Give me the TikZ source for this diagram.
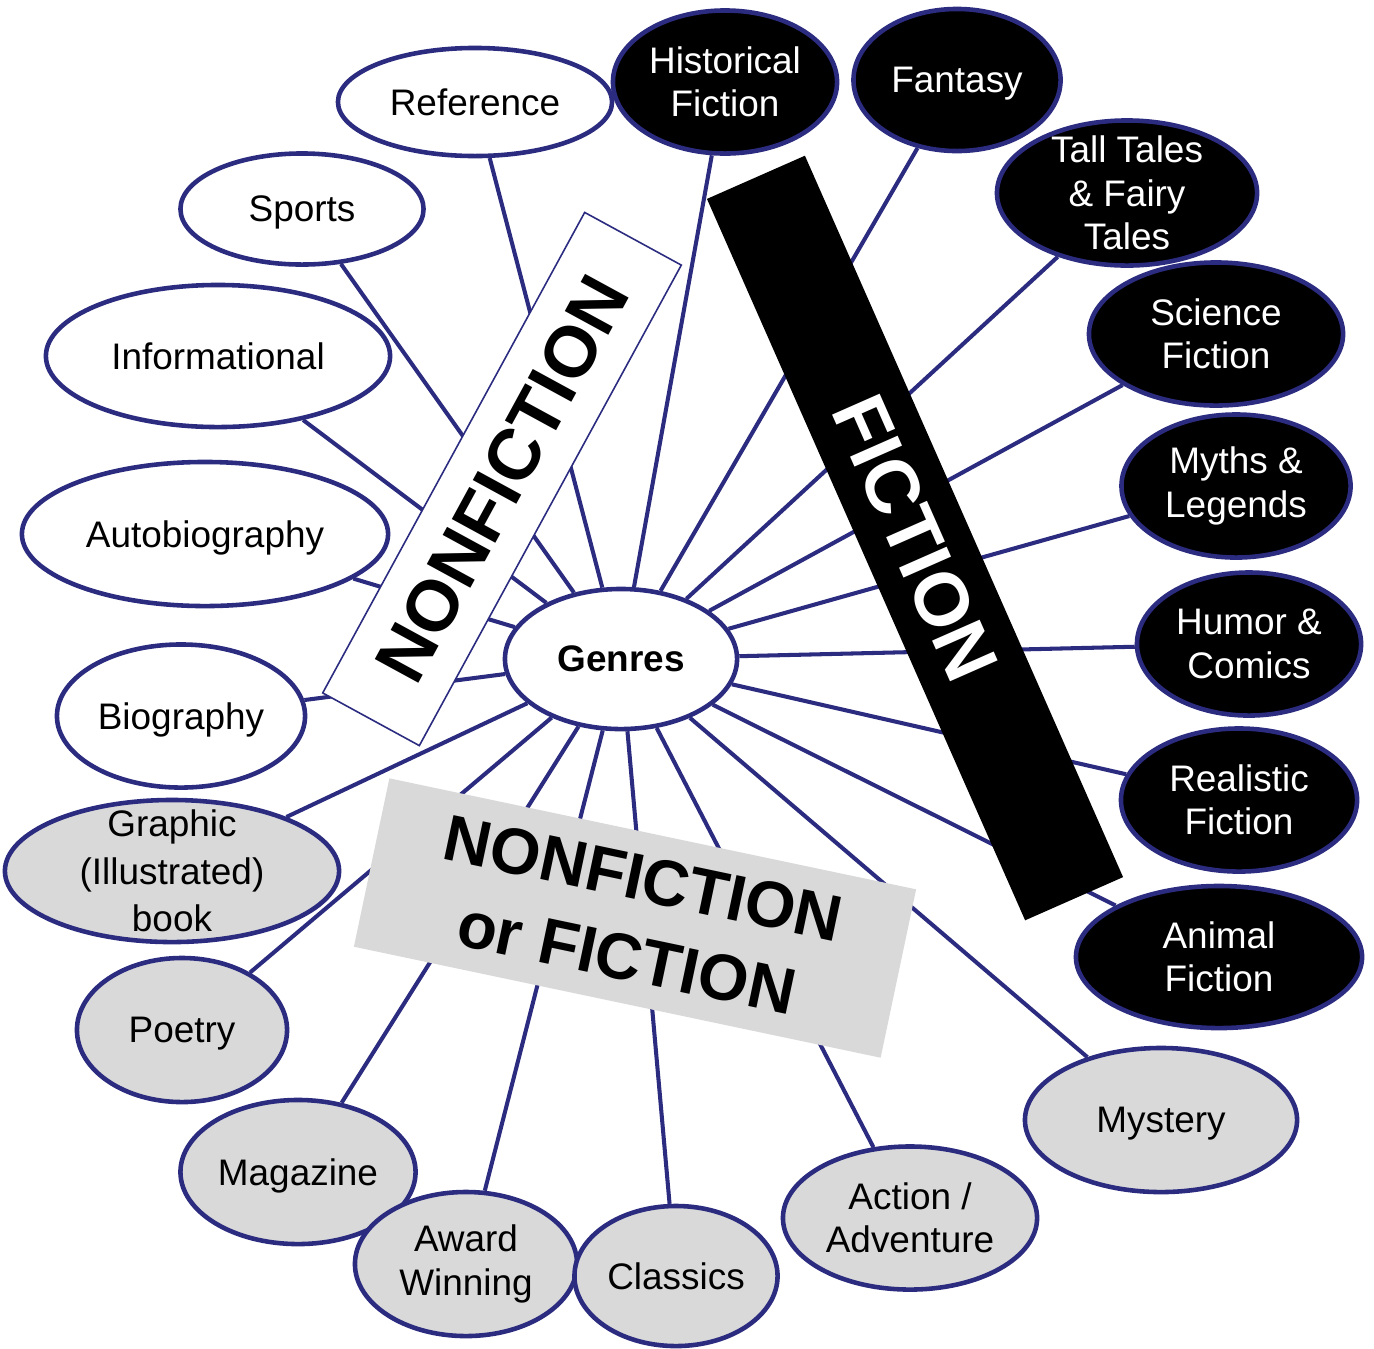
\documentclass[tikz,border=0pt]{standalone}
\usepackage{fontspec}
\setmainfont{Liberation Sans}
\usetikzlibrary{shapes.geometric}

\definecolor{navy}{RGB}{43,43,128}
\definecolor{boxgray}{RGB}{217,217,217}

\begin{document}
\begin{tikzpicture}[x = 0.01cm, y = -0.01cm,
	genre/.style = {ellipse, draw = navy, line width = 1.3pt, inner sep = 0pt, align = center,
		minimum height = 1.43cm, font = \fontsize{10.5}{12.3}\selectfont},
	nonfic/.style = {genre, fill = white, text = black},
	fic/.style = {genre, fill = black, text = white},
	either/.style = {genre, fill = boxgray, text = black},
	oneline/.style = {text depth = 0pt},
	spoke/.style = {draw = navy, line width = 1.15pt},
	banner/.style = {inner sep = 0pt, align = center, font = \fontsize{20.5}{25}\selectfont\bfseries}]

	\useasboundingbox (0, 0) rectangle (1374, 1348);

	% Centre

	\node [nonfic, minimum width = 2.32cm, minimum height = 1.40cm, font = \fontsize{10.5}{12.3}\selectfont\bfseries] (genres) at (621, 659) {Genres};

	% Nonfiction genres

	\node [nonfic, minimum width = 2.74cm, minimum height = 1.08cm] (ref) at (475, 102) {Reference};
	\node [nonfic, oneline, minimum width = 2.43cm, minimum height = 1.11cm] (sports) at (302, 209) {Sports};
	\node [nonfic, minimum width = 3.44cm, minimum height = 1.42cm] (info) at (218, 356) {Informational};
	\node [nonfic, oneline, minimum width = 3.66cm, minimum height = 1.44cm] (autobio) at (205, 534) {Autobiography};
	\node [nonfic, oneline, minimum width = 2.48cm] (bio) at (181, 716) {Biography};

	% Fiction genres

	\node [fic, minimum width = 2.24cm] (histfic) at (725, 82) {Historical\\Fiction};
	\node [fic, oneline, minimum width = 2.07cm, minimum height = 1.42cm] (fantasy) at (957, 80) {Fantasy};
	\node [fic, minimum width = 2.60cm, minimum height = 1.45cm, inner ysep = -0.15cm] (tall) at (1127, 193) {Tall Tales\\\& Fairy\\Tales};
	\node [fic, minimum width = 2.54cm] (scifi) at (1216, 334) {Science\\Fiction};
	\node [fic, minimum width = 2.29cm] (myths) at (1236, 486) {Myths \&\\Legends};
	\node [fic, minimum width = 2.24cm] (humor) at (1249, 644) {Humor \&\\Comics};
	\node [fic, minimum width = 2.36cm] (realistic) at (1239, 800) {Realistic\\Fiction};
	\node [fic, minimum width = 2.86cm, minimum height = 1.42cm] (animal) at (1219, 957) {Animal\\Fiction};

	% Either way

	\node [either, minimum width = 3.34cm, minimum height = 1.42cm, inner ysep = -0.2cm, font = \fontsize{10.5}{13.5}\selectfont] (graphic) at (172, 871) {Graphic\\(Illustrated)\\book};
	\node [either, oneline, minimum width = 2.10cm, minimum height = 1.44cm] (poetry) at (182, 1030) {Poetry};
	\node [either, oneline, minimum width = 2.35cm, minimum height = 1.44cm] (magazine) at (298, 1172) {Magazine};
	\node [either, minimum width = 2.22cm, minimum height = 1.44cm] (award) at (466, 1264) {Award\\Winning};
	\node [either, minimum width = 2.03cm, minimum height = 1.40cm] (classics) at (676, 1276) {Classics};
	\node [either, minimum width = 2.54cm] (action) at (910, 1218) {Action /\\Adventure};
	\node [either, oneline, minimum width = 2.72cm, minimum height = 1.44cm] (mystery) at (1161, 1120) {Mystery};

	% Spokes

	\foreach \g in {ref, sports, info, autobio, bio,
			histfic, fantasy, tall, scifi, myths, humor, realistic, animal,
			graphic, poetry, magazine, award, classics, action, mystery}
		\draw [spoke] (genres) -- (\g);

	% Banners

	\node [banner, draw = navy, line width = 0.45pt, fill = white, minimum width = 5.47cm, minimum height = 1.10cm, rotate = 61.4] (nfbanner) at (502, 479) {NONFICTION};
	\node [banner, fill = black, text = white, font = \fontsize{21.5}{26}\selectfont\bfseries, minimum width = 7.88cm, minimum height = 1.07cm, rotate = -66.2] (fbanner) at (915, 538) {FICTION};
	\node [banner, fill = boxgray, font = \fontsize{18.5}{23}\selectfont\bfseries, minimum width = 5.38cm, minimum height = 1.72cm, rotate = -11.9] (eitherbanner) at (635, 918) {NONFICTION\\or FICTION};

\end{tikzpicture}
\end{document}
